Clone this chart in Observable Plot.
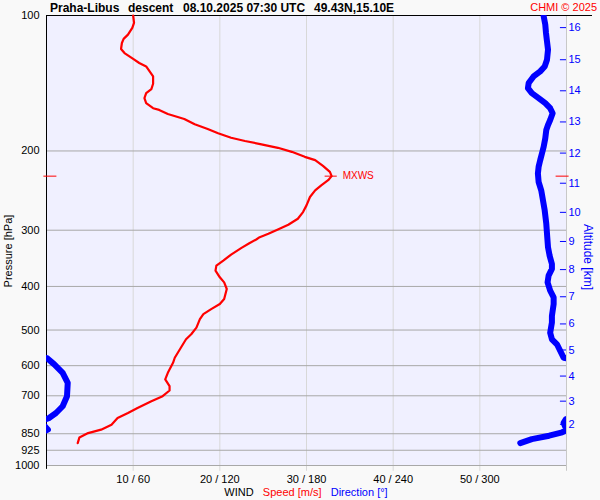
<!DOCTYPE html>
<html>
<head>
<meta charset="utf-8">
<script src="https://cdn.jsdelivr.net/npm/d3@7"></script>
<script src="https://cdn.jsdelivr.net/npm/@observablehq/plot@0.6"></script>
<style>
  html, body { margin: 0; padding: 0; background: #f9f9f9; }
  #wrap { position: relative; width: 600px; height: 500px; overflow: hidden; background: #f9f9f9;
          font-family: "Liberation Sans", Arial, sans-serif; }
  #wrap svg { position: absolute; left: 0; top: 0; }
  .t { position: absolute; white-space: pre; line-height: 1; }
</style>
</head>
<body>
<div id="wrap"></div>
<script>
// ---------- DATA ----------
// Wind speed profile (pressure hPa, speed m/s), from bottom to top
const speedP = [891.8, 866.1, 847.1, 832.4, 811.4, 784.3, 764.4, 745, 719.7, 701.5, 681.3, 666.4, 643.8, 622.3, 591.2, 576.2, 547.4, 524.2, 510.9, 493.8, 472.9, 460.9, 449.2, 437.8, 426.7, 405.3, 391.8, 381.8, 368.9, 359.5, 350.4, 339.8, 328.3, 320.6, 314.6, 310.9, 305.5, 298.8, 291.7, 282.9, 273.4, 264.2, 253.1, 244.6, 238.4, 232.3, 227.5, 222.6, 215.9, 209.6, 206.1, 200.9, 196.8, 193.3, 190.1, 186.9, 182.7, 178.7, 174.5, 169.8, 165.5, 162.1, 160.7, 156.6, 152.6, 148.8, 145.7, 141.8, 136.6, 133.1, 129.8, 127.5, 124.9, 121.2, 118.7, 115.1, 112.7, 110.3, 106.5, 103.8, 100];
const speedV = [3.6, 3.8, 4.8, 6.3, 7.5, 8.2, 9.4, 10.5, 12.1, 13.4, 14.2, 14.2, 13.7, 14.0, 14.6, 14.8, 15.5, 16.1, 16.7, 17.3, 17.7, 18.1, 19.0, 20.0, 20.5, 20.8, 20.5, 20.0, 19.5, 19.6, 20.4, 21.3, 22.5, 23.4, 24.2, 24.6, 25.6, 26.7, 27.9, 29.0, 29.6, 30.0, 30.4, 31.0, 31.7, 32.5, 32.9, 32.7, 31.9, 31.0, 29.8, 28.3, 26.7, 24.8, 22.9, 21.3, 19.8, 18.6, 17.1, 15.9, 14.0, 13.0, 12.3, 11.5, 11.3, 11.5, 12.1, 12.3, 12.3, 11.9, 11.5, 10.7, 10.0, 9.0, 8.6, 8.7, 8.9, 9.4, 9.9, 10.1, 10.0];

// Wind direction profile (pressure hPa, direction deg), from bottom to top
const dirP = [891.8, 873.7, 858.6, 843.9, 832.4, 818.5, 803.6, 789.6, 785, 764.4, 738.5, 701.5, 655.2, 622.3, 596, 577.9, 576.2, 556.6, 537.8, 524.2, 506.7, 481.3, 465, 437.8, 423.2, 408.9, 391.8, 378.5, 365.8, 356.5, 341.6, 327.3, 305.5, 290.2, 271, 257.5, 244.6, 234.4, 224.5, 216.9, 209.6, 202.6, 195.7, 187.5, 179.7, 175.1, 170.7, 164.9, 160.7, 156.6, 152.6, 148.8, 145, 141.3, 136.6, 133.1, 129.8, 125.4, 119.1, 114.1, 109.3, 104.7, 100.4];
const dirV = [328, 336, 348, 357, 1, 359, 358, 359.5, 1.5, 6.6, 11.2, 14.2, 14.7, 11.2, 5.4, 0.5, 358, 355.7, 353.4, 349.9, 348.7, 349.9, 349.9, 351.1, 351.1, 348.7, 346.9, 347.6, 349.9, 349.9, 348.3, 347.2, 346.5, 346, 344.9, 343.7, 342.5, 340.7, 340.2, 340.7, 341.8, 343, 344.2, 345.3, 346, 347.2, 348.7, 350.4, 348.7, 345.3, 340.7, 336, 333.3, 333.8, 337.2, 341.8, 344.9, 346.5, 347.2, 346.5, 345.8, 345.3, 344.2];

// Axes / ticks
const pressureTicks = [100, 200, 300, 400, 500, 600, 700, 850, 925, 1000];
const pressureGrid = [200, 300, 400, 500, 600, 700, 850, 925, 1000];
const speedTicks = [10, 20, 30, 40, 50];
const altKm = [16, 15, 14, 13, 12, 11, 10, 9, 8, 7, 6, 5, 4, 3, 2];
const altP = [106.4, 125.4, 147, 172.4, 202.2, 235.9, 273.8, 317.8, 367, 421.7, 484.6, 553.7, 632.8, 719.5, 810];

// ---------- BUILD ----------
const speed = speedP.map((p, i) => ({p, s: speedV[i]}));
const mx = speed.reduce((a, b) => (b.s > a.s ? b : a));

// direction line split where it wraps 360 -> 0
const dirPts = [];
let seg = 0;
for (let i = 0; i < dirP.length; i++) {
  if (i > 0 && Math.abs(dirV[i] - dirV[i - 1]) > 180) {
    const up = dirV[i - 1] > dirV[i];
    dirPts.push({p: dirP[i], d: dirV[i] + (up ? 360 : -360), z: seg});
    seg++;
    dirPts.push({p: dirP[i - 1], d: dirV[i - 1] + (up ? -360 : 360), z: seg});
  }
  dirPts.push({p: dirP[i], d: dirV[i], z: seg});
}

const RED = "#ff0000", BLUE = "#0000ff";

const chart = Plot.plot({
  width: 600,
  height: 500,
  marginLeft: 46,
  marginRight: 34,
  marginTop: 15,
  marginBottom: 35,
  style: {background: "transparent", fontFamily: "'Liberation Sans', Arial, sans-serif", fontSize: "11px", color: "#000", overflow: "visible"},
  x: {domain: [0, 60], ticks: speedTicks, tickFormat: d => `${d} / ${d * 6}`, tickSize: 0, tickPadding: 10, label: null},
  y: {type: "log", domain: [100, 1000], reverse: true, ticks: pressureTicks, tickFormat: d => String(d), tickSize: 0, tickPadding: 7, label: null},
  marks: [
    Plot.frame({fill: "#f0f0ff", stroke: null}),
    Plot.ruleX(speedTicks, {y1: 100, y2: 1030, stroke: "#d8d8d8", strokeWidth: 1}),
    Plot.ruleY(pressureGrid, {stroke: "#a8a8a8", strokeWidth: 1}),
    Plot.ruleX([60], {y1: 100, y2: 1030, stroke: "#c8c8c8", strokeWidth: 1}),
    Plot.ruleX([0], {y1: 100, y2: 1020, stroke: "#000", strokeWidth: 1}),
    Plot.ruleY([100], {x1: 0, x2: 63, stroke: "#000", strokeWidth: 1}),
    // altitude ticks
    Plot.ruleY(altP, {x1: 59.3, x2: 60, stroke: BLUE, strokeWidth: 1}),
    Plot.text(altKm, {x: 60, y: (d, i) => altP[i], text: d => String(d), dx: 2, textAnchor: "start", fill: BLUE, fontSize: 11}),
    // direction
    Plot.line(dirPts, {x: d => d.d / 6, y: "p", z: "z", stroke: BLUE, strokeWidth: 6, strokeLinecap: "round", strokeLinejoin: "round", clip: true}),
    // speed
    Plot.line(speed, {x: "s", y: "p", stroke: RED, strokeWidth: 2.2, strokeLinejoin: "round"}),
    // max wind marker
    Plot.ruleY([mx], {y: "p", x1: d => d.s - 0.75, x2: d => d.s + 0.65, stroke: RED, strokeWidth: 1}),
    Plot.ruleY([mx], {y: "p", x1: -0.3, x2: 1.2, stroke: RED, strokeWidth: 1}),
    Plot.ruleY([mx], {y: "p", x1: 58.8, x2: 60.3, stroke: RED, strokeWidth: 1}),
    Plot.text([mx], {x: "s", y: "p", text: () => "MXWS", dx: 11, textAnchor: "start", fill: RED, fontSize: 10})
  ]
});

const wrap = document.getElementById("wrap");
wrap.appendChild(chart);

function addText(txt, css) {
  const d = document.createElement("div");
  d.className = "t";
  d.textContent = txt;
  Object.assign(d.style, css);
  wrap.appendChild(d);
  return d;
}
// title pieces
const titleParts = ["Praha-Libus", "descent", "08.10.2025 07:30 UTC", "49.43N,15.10E"];
const titleLeft = [50, 128, 183, 314];
titleParts.forEach((t, i) => addText(t, {left: titleLeft[i] + "px", top: "2px", fontSize: "12px", fontWeight: "bold", color: "#000"}));
addText("CHMI © 2025", {right: "3px", top: "2px", fontSize: "11px", color: RED});
// axis titles
addText("Pressure [hPa]", {left: "8px", top: "251px", fontSize: "11px", color: "#000", transform: "translate(-50%,-50%) rotate(-90deg)"});
addText("Altitude [km]", {left: "588px", top: "257px", fontSize: "12px", color: BLUE, transform: "translate(-50%,-50%) rotate(90deg)"});
// bottom caption
const cap = document.createElement("div");
cap.className = "t";
Object.assign(cap.style, {left: "306px", top: "492px", transform: "translate(-50%,-50%)", fontSize: "11px"});
cap.innerHTML = '<span style="color:#000">WIND</span>   <span style="color:' + RED + '">Speed [m/s]</span>   <span style="color:' + BLUE + '">Direction [°]</span>';
wrap.appendChild(cap);
</script>
</body>
</html>
